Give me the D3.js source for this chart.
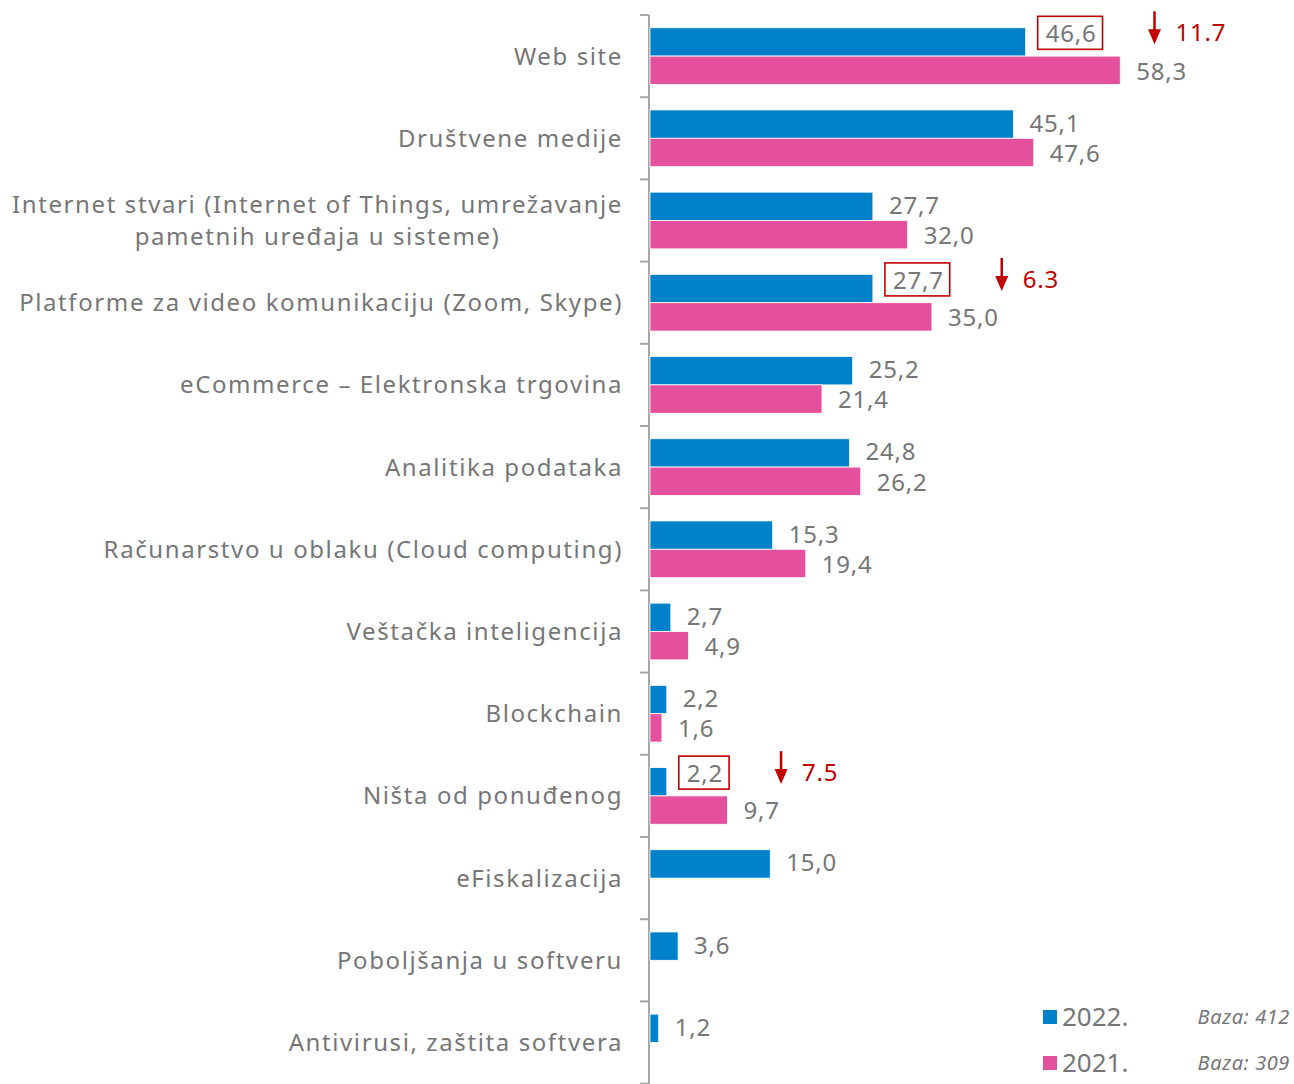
<!DOCTYPE html>
<html lang="sr">
<head>
<meta charset="UTF-8">
<title>Tehnologije 2022 / 2021</title>
<script src="https://d3js.org/d3.v7.min.js"></script>
<style>
  body { margin: 0; background: #fff; }
  text { font-family: "Noto Sans", "DejaVu Sans", sans-serif; }
</style>
</head>
<body>
<div id="chart"></div>
<script>
    // podaci sa slike
    var categories = [
        ["Web site"],
        ["Društvene medije"],
        ["Internet stvari (Internet of Things, umrežavanje", "pametnih uređaja u sisteme)"],
        ["Platforme za video komunikaciju (Zoom, Skype)"],
        ["eCommerce – Elektronska trgovina"],
        ["Analitika podataka"],
        ["Računarstvo u oblaku (Cloud computing)"],
        ["Veštačka inteligencija"],
        ["Blockchain"],
        ["Ništa od ponuđenog"],
        ["eFiskalizacija"],
        ["Poboljšanja u softveru"],
        ["Antivirusi, zaštita softvera"]
    ];
    var values2022 = [46.6, 45.1, 27.7, 27.7, 25.2, 24.8, 15.3, 2.7, 2.2, 2.2, 15.0, 3.6, 1.2];
    var values2021 = [58.3, 47.6, 32.0, 35.0, 21.4, 26.2, 19.4, 4.9, 1.6, 9.7, null, null, null];
    var series = ["2022.", "2021."];
    var bases = ["Baza: 412", "Baza: 309"];
    // istaknuti padovi (indeks kategorije, tekst razlike)
    var dropIndex = [0, 3, 9];
    var dropText = ["11.7", "6.3", "7.5"];

    var width = 1294, height = 1084;
    var axisX = 649, plotTop = 15;
    var blue = "#0081C9", pink = "#E4509C", grey = "#767676", red = "#C00000";

    var svg = d3.select("#chart").append("svg")
        .attr("width", width)
        .attr("height", height);

    var idx = d3.range(categories.length);

    var y = d3.scaleBand()
        .domain(idx)
        .range([plotTop, plotTop + 82.2 * categories.length])
        .paddingInner(0.31)
        .paddingOuter(0.155);

    var x = d3.scaleLinear()
        .domain([0, 60])
        .range([axisX, axisX + 485]);

    var y1 = d3.scaleBand()
        .domain(series)
        .range([0, y.bandwidth()]);

    var fmt = function(v) { return d3.format(".1f")(v).replace(".", ","); };

    // osa
    svg.append("line")
        .attr("x1", axisX).attr("x2", axisX)
        .attr("y1", plotTop).attr("y2", height)
        .attr("stroke", "#a6a6a6").attr("stroke-width", 2);

    svg.append("g").selectAll("line")
        .data(d3.range(categories.length + 1))
        .enter().append("line")
        .attr("x1", axisX - 9).attr("x2", axisX)
        .attr("y1", d => plotTop + d * y.step())
        .attr("y2", d => plotTop + d * y.step())
        .attr("stroke", "#a6a6a6").attr("stroke-width", 2);

    // nazivi kategorija (višeredni su centrirani u bloku)
    var labelRight = 623;
    var lab = svg.append("g").selectAll("text")
        .data(idx)
        .enter().append("text")
        .attr("text-anchor", "end")
        .attr("fill", grey)
        .style("font-size", "24px")
        .style("letter-spacing", "1.6px");

    lab.each(function(i) {
        var lines = categories[i];
        var cy = y(i) + y.bandwidth() / 2;
        var t = d3.select(this);
        var ts = t.selectAll("tspan")
            .data(lines)
            .enter().append("tspan")
            .attr("x", labelRight)
            .attr("y", (d, k) => cy + (k - (lines.length - 1) / 2) * 32)
            .attr("dy", "0.35em")
            .text(d => d);
        if (lines.length > 1) {
            var w = d3.max(ts.nodes(), n => n.getComputedTextLength());
            t.attr("text-anchor", "middle");
            ts.attr("x", labelRight - w / 2);
        }
    });

    // stubici
    var rows = [];
    idx.forEach(function(i) {
        if (values2022[i] != null) rows.push({ i: i, s: series[0], v: values2022[i], c: blue });
        if (values2021[i] != null) rows.push({ i: i, s: series[1], v: values2021[i], c: pink });
    });

    svg.append("g").selectAll("rect")
        .data(rows)
        .enter().append("rect")
        .attr("x", x(0) + 1)
        .attr("y", d => y(d.i) + y1(d.s))
        .attr("width", d => x(d.v) - x(0) - 1)
        .attr("height", y1.bandwidth())
        .attr("fill", d => d.c)
        .attr("stroke", "#fff")
        .attr("stroke-width", 0.8);

    // vrednosti
    var isDrop = d => d.s === series[0] && dropIndex.indexOf(d.i) >= 0;

    var vals = svg.append("g").selectAll("text")
        .data(rows)
        .enter().append("text")
        .attr("x", d => x(d.v) + (isDrop(d) ? 20 : 16))
        .attr("y", d => y(d.i) + y1(d.s) + y1.bandwidth() / 2 + (d.s === series[0] ? -1 : 1) - (isDrop(d) ? 7 : 0))
        .attr("dy", "0.35em")
        .attr("fill", grey)
        .style("font-size", "24px")
        .style("letter-spacing", "0.8px")
        .text(d => fmt(d.v));

    // okviri i strelice za padove
    vals.filter(isDrop).each(function(d) {
        var b = this.getBBox();
        var k = dropIndex.indexOf(d.i);
        var bx = b.x - 8, by = b.y, bw = b.width + 14, bh = b.height;
        svg.append("rect")
            .attr("x", bx).attr("y", by)
            .attr("width", bw).attr("height", bh)
            .attr("fill", "none")
            .attr("stroke", red).attr("stroke-width", 1.6);

        var ax = bx + bw + 52, ay = by - 5;
        svg.append("line")
            .attr("x1", ax).attr("x2", ax)
            .attr("y1", ay).attr("y2", ay + 22)
            .attr("stroke", red).attr("stroke-width", 2.5);
        svg.append("path")
            .attr("d", "M" + (ax - 6.5) + "," + (ay + 18) + "L" + (ax + 6.5) + "," + (ay + 18) + "L" + ax + "," + (ay + 33) + "Z")
            .attr("fill", red);

        svg.append("text")
            .attr("x", ax + 21)
            .attr("y", by + bh / 2)
            .attr("dy", "0.35em")
            .attr("fill", red)
            .style("font-size", "24px")
            .style("letter-spacing", "0.8px")
            .text(dropText[k]);
    });

    // legenda
    var legColors = [blue, pink];
    var leg = svg.append("g").selectAll("g")
        .data(series)
        .enter().append("g")
        .attr("transform", (d, k) => "translate(1043," + (1017 + k * 46) + ")");

    leg.append("rect")
        .attr("x", 0).attr("y", -7)
        .attr("width", 14).attr("height", 14)
        .attr("fill", (d, k) => legColors[k]);

    leg.append("text")
        .attr("x", 19).attr("dy", "0.36em")
        .attr("fill", grey)
        .style("font-size", "26px")
        .text(d => d);

    leg.append("text")
        .attr("x", 247).attr("dy", "0.35em")
        .attr("text-anchor", "end")
        .attr("fill", grey)
        .style("font-size", "20px")
        .style("font-style", "italic")
        .style("letter-spacing", "0.6px")
        .text((d, k) => bases[k]);
</script>
</body>
</html>
